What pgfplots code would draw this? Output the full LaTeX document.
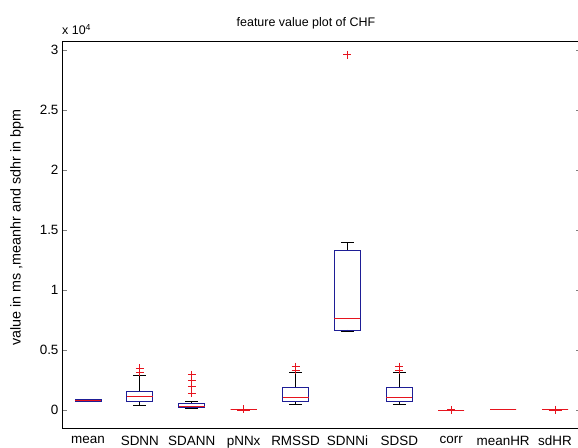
\documentclass[border=0pt]{standalone}
\usepackage{pgfplots}
\pgfplotsset{compat=1.18}
\usepgfplotslibrary{statistics}
\usetikzlibrary{calc}
\usepackage{fontspec}
\setmainfont{Liberation Sans}

\definecolor{boxblue}{RGB}{30,30,150}
\definecolor{medred}{RGB}{230,20,30}

% values in units of 10^4
\pgfplotsset{
  bx/.style={
    color=medred, line width=0.8bp, solid,
    mark=+, mark size=4bp,
    mark options={draw=medred, color=medred, solid, line width=1bp},
    boxplot/draw direction=y,
    boxplot/box extend=0.5,
    boxplot/whisker extend=0.25,
    boxplot/every box/.style={draw=boxblue, line width=0.8bp},
    boxplot/every median/.style={draw=medred, line width=0.9bp},
    boxplot/every whisker/.style={draw=black, line width=0.8bp},
  },
  flat/.style={
    boxplot/every box/.style={draw=medred, line width=0.9bp},
    boxplot/every whisker/.style={draw=medred, line width=0.9bp},
  },
}

\begin{document}
\begin{tikzpicture}
\begin{axis}[
  name=ax,
  scale only axis,
  width=519bp, height=387bp,
  xmin=0.5, xmax=10.5,
  ymin=-0.15, ymax=3.075,
  axis line style={line width=0.8bp},
  tick align=inside,
  major tick length=5bp,
  xtick={1,...,10},
  xticklabels={mean,SDNN,SDANN,pNNx,RMSSD,SDNNi,SDSD,corr,meanHR,sdHR},
  major x tick style={draw=none},
  ytick={0,0.5,1,1.5,2,2.5,3},
  yticklabels={0,0.5,1,1.5,2,2.5,3},
  /pgf/number format/assume math mode=true,
  xticklabel style={font=\fontsize{13.5}{15}\selectfont, inner sep=0pt, yshift=-8bp, anchor=north},
  yticklabel style={font=\fontsize{13.5}{15}\selectfont},
  title={feature value plot of CHF},
  title style={font=\fontsize{12.5}{14}\selectfont, at={(rel axis cs:0.47,1)}, anchor=base, yshift=9bp},
  ylabel={value in ms ,meanhr and sdhr in bpm},
  ylabel style={font=\fontsize{14.4}{16}\selectfont, at={(rel axis cs:-0.0867,0.518)}, anchor=center},
]
% mean
\addplot[bx, boxplot prepared={draw position=1, lower whisker=0.070, lower quartile=0.072, median=0.080, upper quartile=0.088, upper whisker=0.090}] coordinates {};
% SDNN
\addplot[bx, boxplot prepared={draw position=2, lower whisker=0.040, lower quartile=0.0694, median=0.1111, upper quartile=0.1583, upper whisker=0.290}]
  table[row sep=\\, y index=0] {y\\ 0.347\\ 0.314\\};
% SDANN
\addplot[bx, boxplot prepared={draw position=3, lower whisker=0.010, lower quartile=0.0222, median=0.029, upper quartile=0.0528, upper whisker=0.0694}]
  table[row sep=\\, y index=0] {y\\ 0.2917\\ 0.2444\\ 0.1944\\ 0.1389\\};
% pNNx
\addplot[bx, flat, boxplot prepared={draw position=4, lower whisker=0, lower quartile=0.001, median=0.001, upper quartile=0.001, upper whisker=0.004}]
  table[row sep=\\, y index=0] {y\\ 0.006\\ 0.008\\};
% RMSSD
\addplot[bx, boxplot prepared={draw position=5, lower whisker=0.045, lower quartile=0.0694, median=0.1058, upper quartile=0.189, upper whisker=0.315}]
  table[row sep=\\, y index=0] {y\\ 0.3611\\ 0.3333\\};
% SDNNi
\addplot[bx, boxplot prepared={draw position=6, lower whisker=0.6528, lower quartile=0.6667, median=0.7639, upper quartile=1.3333, upper whisker=1.3942}]
  table[row sep=\\, y index=0] {y\\ 2.9583\\};
% SDSD
\addplot[bx, boxplot prepared={draw position=7, lower whisker=0.045, lower quartile=0.0694, median=0.1058, upper quartile=0.189, upper whisker=0.315}]
  table[row sep=\\, y index=0] {y\\ 0.3611\\ 0.3333\\};
% corr
\addplot[bx, flat, boxplot prepared={draw position=8, lower whisker=0, lower quartile=0, median=0, upper quartile=0, upper whisker=0.00008}]
  table[row sep=\\, y index=0] {y\\ 0.0001\\};
% meanHR
\addplot[bx, flat, boxplot prepared={draw position=9, lower whisker=0.0075, lower quartile=0.0075, median=0.0075, upper quartile=0.0075, upper whisker=0.0075}] coordinates {};
% sdHR
\addplot[bx, flat, boxplot prepared={draw position=10, lower whisker=0.0002, lower quartile=0.0005, median=0.0005, upper quartile=0.0005, upper whisker=0.001}]
  table[row sep=\\, y index=0] {y\\ 0.0015\\ 0.002\\};
\end{axis}
\node[anchor=base west, inner sep=0pt, font=\fontsize{12.5}{14}\selectfont] at ($(ax.north west)+(0,6bp)$) {x 10\textsuperscript{4}};
\pgfresetboundingbox
\path[use as bounding box] ($(ax.south west)+(-62bp,-20bp)$) rectangle ($(ax.north east)+(-3bp,41bp)$);
\end{tikzpicture}
\end{document}
